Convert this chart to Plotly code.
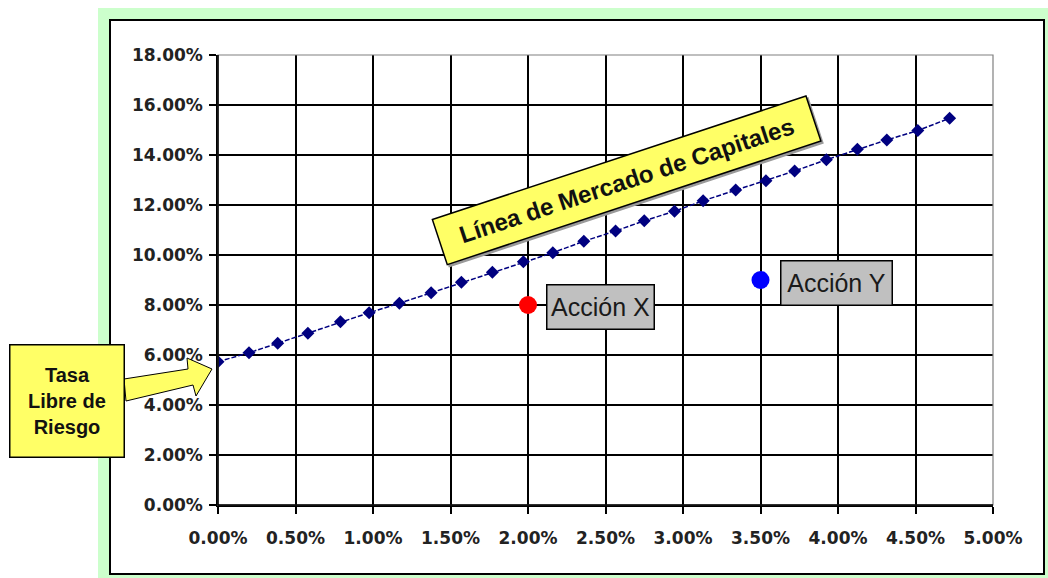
import plotly.graph_objects as go

# ---- data (percent units) ----
cml_x = [0.00, 0.20, 0.385, 0.58, 0.79, 0.975, 1.17, 1.375, 1.57, 1.77, 1.97, 2.16, 2.36,
         2.565, 2.75, 2.945, 3.13, 3.34, 3.535, 3.72, 3.925, 4.125, 4.315, 4.515, 4.72]
cml_y = [5.73, 6.09, 6.47, 6.87, 7.33, 7.69, 8.07, 8.49, 8.91, 9.31, 9.73, 10.09, 10.55,
         10.96, 11.37, 11.75, 12.17, 12.60, 12.97, 13.36, 13.81, 14.23, 14.60, 14.98, 15.47]
accion_x_pt = [2.0]
accion_x_ret = [8.0]
accion_y_pt = [3.5]
accion_y_ret = [9.0]
x_ticks = [0, 0.5, 1.0, 1.5, 2.0, 2.5, 3.0, 3.5, 4.0, 4.5, 5.0]
y_ticks = [0, 2, 4, 6, 8, 10, 12, 14, 16, 18]
x_ticktext = ["{:.2f}%".format(v) for v in x_ticks]
y_ticktext = ["{:.2f}%".format(v) for v in y_ticks]
label_cml = "Línea de Mercado de Capitales"
label_rf = "Tasa<br>Libre de<br>Riesgo"
label_ax = "Acción X"
label_ay = "Acción Y"

W, H = 1048, 578
ML, MR, MT, MB = 218, 55, 55, 73
PW, PH = W - ML - MR, H - MT - MB


def px(xp):
    return (xp - ML) / PW


def py(yp):
    return (H - MB - yp) / PH


fig = go.Figure()
fig.add_trace(go.Scatter(
    x=cml_x, y=cml_y, mode="lines+markers",
    line=dict(color="#000080", width=1.5, dash="5px,2px"),
    marker=dict(symbol="diamond", size=10, color="#000080"),
    showlegend=False, hoverinfo="skip"))
fig.add_trace(go.Scatter(
    x=accion_x_pt, y=accion_x_ret, mode="markers",
    marker=dict(symbol="circle", size=18, color="#ff0000"),
    showlegend=False, hoverinfo="skip"))
fig.add_trace(go.Scatter(
    x=accion_y_pt, y=accion_y_ret, mode="markers",
    marker=dict(symbol="circle", size=18, color="#0000ff"),
    showlegend=False, hoverinfo="skip"))

tickfont = dict(family="DejaVu Sans", size=17, color="#222222", weight="bold")

fig.update_xaxes(
    range=[0, 5], tickvals=x_ticks, ticktext=x_ticktext,
    showgrid=True, gridcolor="black", gridwidth=1.5, zeroline=False,
    showline=True, linecolor="black", linewidth=1.5,
    ticks="outside", ticklen=7, tickcolor="black", tickwidth=1.5,
    tickfont=tickfont, ticklabelstandoff=10)
fig.update_yaxes(
    range=[0, 18], tickvals=y_ticks, ticktext=y_ticktext,
    showgrid=True, gridcolor="black", gridwidth=1.5, zeroline=False,
    showline=True, linecolor="black", linewidth=1.5,
    ticks="outside", ticklen=7, tickcolor="black", tickwidth=1.5,
    tickfont=tickfont, ticklabelstandoff=3)

shapes = [
    # green frame
    dict(type="rect", xref="paper", yref="paper", layer="below",
         x0=px(98), x1=px(1060), y0=py(8), y1=py(590),
         fillcolor="#ccffcc", line=dict(width=0)),
    # white chart box with black border
    dict(type="rect", xref="paper", yref="paper", layer="below",
         x0=px(110), x1=px(1044), y0=py(20), y1=py(574),
         fillcolor="white", line=dict(color="black", width=2)),
    # grey plot-area border (top/right)
    dict(type="rect", xref="paper", yref="paper", layer="above",
         x0=0, x1=1, y0=0, y1=1, line=dict(color="#808080", width=1.2)),
    dict(type="line", xref="paper", yref="paper", layer="above",
         x0=0, x1=0, y0=0, y1=1, line=dict(color="black", width=1.5)),
    dict(type="line", xref="paper", yref="paper", layer="above",
         x0=0, x1=1, y0=0, y1=0, line=dict(color="black", width=1.5)),
    # block arrow from the "Tasa Libre de Riesgo" box
    dict(type="path", xref="paper", yref="paper", layer="above",
         path=("M {} {} L {} {} L {} {} L {} {} L {} {} L {} {} L {} {} Z").format(
             px(124), py(379), px(188), py(369), px(187), py(358),
             px(212), py(369), px(196), py(396), px(193), py(385),
             px(126), py(401)),
         fillcolor="#ffff66", line=dict(color="black", width=1)),
]

annotations = [
    # shadow of CML label
    dict(x=px(628), y=py(182), xref="paper", yref="paper", showarrow=False,
         text=" ", textangle=-18.3, width=392, height=46, bgcolor="#9a9a9a",
         borderpad=0, borderwidth=1.5, bordercolor="#9a9a9a",
         xanchor="center", yanchor="middle"),
    dict(x=px(626), y=py(180), xref="paper", yref="paper", showarrow=False,
         text=label_cml, textangle=-18.3, width=392, height=46, bgcolor="#ffff66",
         borderpad=0, borderwidth=1.5, bordercolor="black",
         font=dict(family="Liberation Sans, Arial", size=24, color="#111111",
                   weight="bold"),
         xanchor="center", yanchor="middle"),
    # risk-free label box
    dict(x=px(66.5), y=py(400.5), xref="paper", yref="paper", showarrow=False,
         text=label_rf, width=113, height=111, bgcolor="#ffff66",
         borderpad=0, borderwidth=1.5, bordercolor="black",
         font=dict(family="Liberation Sans, Arial", size=20, color="#111111",
                   weight="bold"),
         xanchor="center", yanchor="middle"),
    # stock labels
    dict(x=accion_x_pt[0], y=accion_x_ret[0], xref="x", yref="y", showarrow=False,
         text=label_ax, xanchor="left", yanchor="middle", xshift=18, yshift=-2,
         width=106, height=43, bgcolor="#c0c0c0", borderpad=0, borderwidth=1.5,
         bordercolor="black",
         font=dict(family="Liberation Sans, Arial", size=25, color="#1a1a1a")),
    dict(x=accion_y_pt[0], y=accion_y_ret[0], xref="x", yref="y", showarrow=False,
         text=label_ay, xanchor="left", yanchor="middle", xshift=19, yshift=-3,
         width=110, height=43, bgcolor="#c0c0c0", borderpad=0, borderwidth=1.5,
         bordercolor="black",
         font=dict(family="Liberation Sans, Arial", size=25, color="#1a1a1a")),
]

fig.update_layout(
    width=W, height=H, autosize=False,
    margin=dict(l=ML, r=MR, t=MT, b=MB, pad=0),
    paper_bgcolor="white", plot_bgcolor="white",
    shapes=shapes, annotations=annotations, showlegend=False)

fig.write_html("out.html")
